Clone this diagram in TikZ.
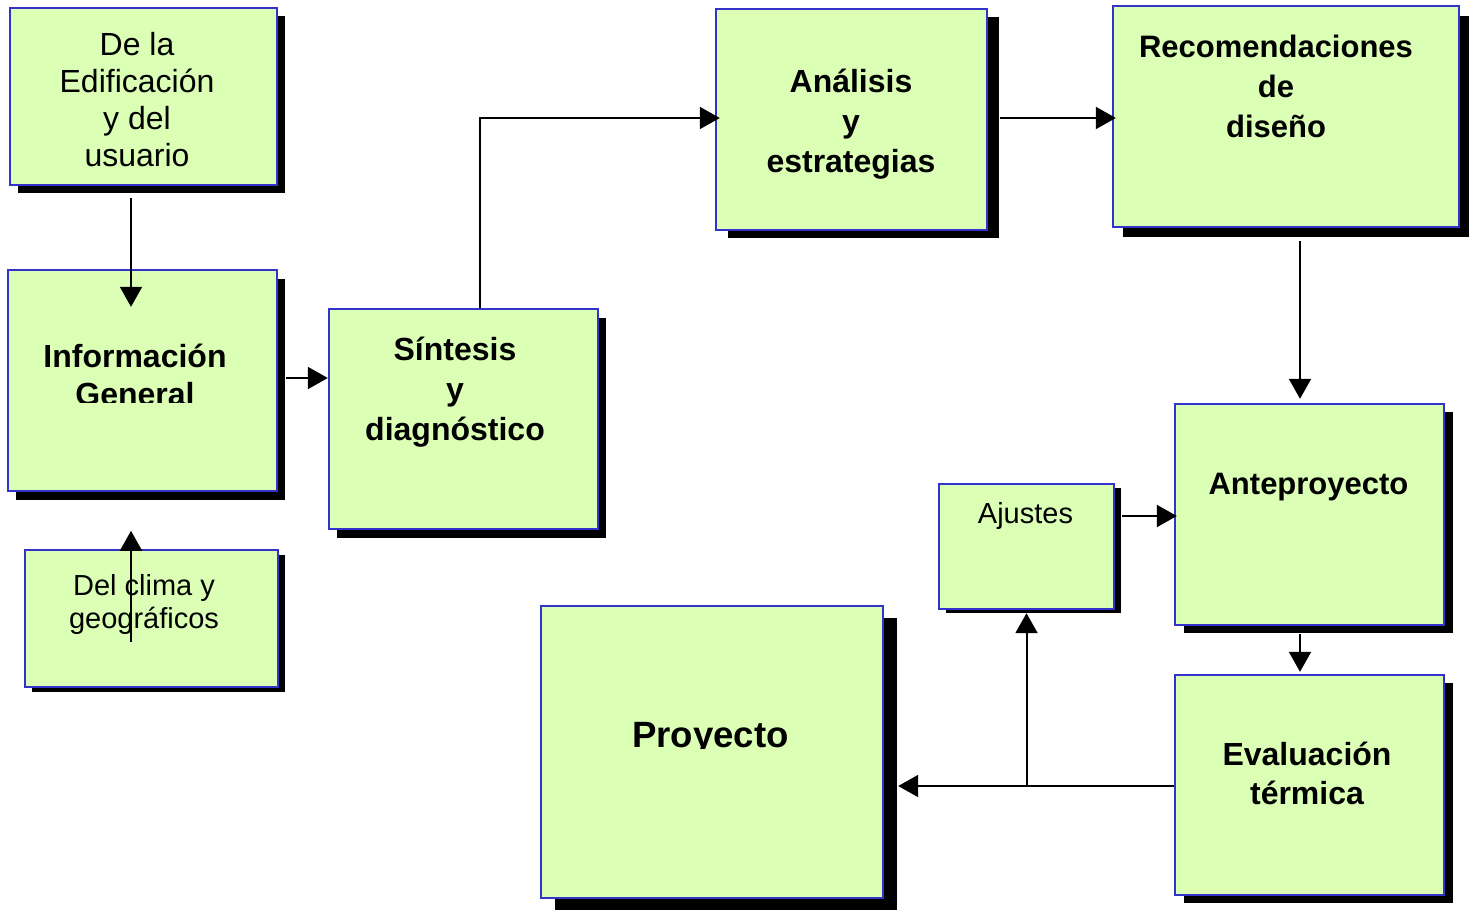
\documentclass[tikz,border=0pt]{standalone}
\usepackage{fontspec}
\setmainfont{Liberation Sans}
\usetikzlibrary{arrows.meta,calc,shadows}
\definecolor{bblue}{RGB}{51,51,204}
\definecolor{bgreen}{RGB}{220,255,182}
\newcommand\lns[1]{\begin{tabular}[t]{@{}c@{}}#1\end{tabular}}
\begin{document}
\begin{tikzpicture}[x=0.5pt,y=-0.5pt,
  box/.style={rectangle, draw=bblue, fill=bgreen, line width=1.2pt, inner sep=0pt},
  shd/.style 2 args={general shadow={fill=black, shadow xshift=#1, shadow yshift=-#2}},
  txt/.style 2 args={anchor=base, inner sep=0pt, font=\fontsize{#1}{#2}\selectfont},
  arr/.style={line width=1pt, -{Triangle[length=10pt,width=11pt]}}]
\useasboundingbox (0,0) rectangle (1477,911);
% boxes
\node[box, shd={4pt}{4pt}, minimum width=133.5pt, minimum height=88.5pt] (b1) at (143.5,96.5) {};
\node[box, shd={4pt}{4.5pt}, minimum width=134.5pt, minimum height=110.5pt] (b2) at (142.5,380.5) {};
\node[box, shd={3.5pt}{2.5pt}, minimum width=126.5pt, minimum height=68.5pt] (b3) at (151.5,618.5) {};
\node[box, shd={4pt}{4.5pt}, minimum width=134.5pt, minimum height=110pt] (b4) at (463.5,419) {};
\node[box, shd={6pt}{4pt}, minimum width=135.5pt, minimum height=110.5pt] (b5) at (851.5,119.5) {};
\node[box, shd={5pt}{5pt}, minimum width=173pt, minimum height=110.5pt] (b6) at (1286,116.5) {};
\node[box, shd={4.5pt}{4pt}, minimum width=134.5pt, minimum height=110.5pt] (b7) at (1309.5,514.5) {};
\node[box, shd={3.5pt}{2pt}, minimum width=87.5pt, minimum height=62.5pt] (b8) at (1026.5,546.5) {};
\node[box, shd={4.5pt}{4pt}, minimum width=134.5pt, minimum height=110pt] (b9) at (1309.5,785) {};
\node[box, shd={7pt}{6pt}, minimum width=171pt, minimum height=146pt] (b10) at (712,752) {};
% texts
\node[txt={16}{18.5}] (t1) at (137,55) {\lns{De la\\Edificación\\y del\\usuario}};
\begin{scope}
\clip (0,0) rectangle (1477,402);
\node[txt={16}{19}] (t2) at (135,367) {\lns{\bfseries Información\\\bfseries General}};
\end{scope}
\node[txt={14.5}{16.75}] (t3) at (144,595) {\lns{Del clima y\\geográficos}};
\node[txt={16}{20}] (t4) at (455,360) {\lns{\bfseries Síntesis\\\bfseries y\\\bfseries diagnóstico}};
\node[txt={16}{20}] (t5) at (851,92) {\lns{\bfseries Análisis\\\bfseries y\\\bfseries estrategias}};
\node[txt={15.5}{20}] (t6) at (1276,57) {\lns{\bfseries Recomendaciones\\\bfseries de\\\bfseries diseño}};
\node[txt={15.5}{19}] (t7) at (1308.5,494) {\bfseries Anteproyecto};
\node[txt={14.5}{17}] (t8) at (1025.5,523) {Ajustes};
\node[txt={16}{19.5}] (t9) at (1307,765) {\lns{\bfseries Evaluación\\\bfseries térmica}};
\begin{scope}
\clip (0,0) rectangle (1477,748.5);
\node[txt={18.3}{22}] (t10) at (710.5,747) {\bfseries Proyecto};
\end{scope}
% connectors
\draw[arr] ($(b1.south)+(-12.5,12)$) -- ($(b2.north)+(-11.5,38)$);
\draw[arr] ($(b3.north)+(-20.5,93)$) -- ($(b3.north)+(-20.5,-18)$);
\draw[arr] ($(b2.east)+(8,-2.5)$) coordinate (p1) -- (p1 -| b4.west);
\draw[arr] ($(b4.north)+(16.5,0)$) |- ($(b5.west)+(5,-1.5)$);
\draw[arr] ($(b5.east)+(12,-1.5)$) coordinate (p2) -- ($(p2 -| b6.west)+(4,0)$);
\draw[arr] ($(b6.south)+(14,13)$) -- ($(b7.north)+(-9.5,-4)$);
\draw[arr] ($(b8.east |- b7.west)+(7,1.5)$) -- ($(b7.west)+(3,1.5)$);
\draw[arr] ($(b7.south)+(-9.5,8)$) -- ($(b9.north)+(-9.5,-2)$);
\draw[arr] ($(b9.west)+(0,1)$) coordinate (p3) -- ($(p3 -| b10.east)+(14,0)$);
\draw[arr] ($(b8.south |- p3)$) -- ($(b8.south)+(0,3)$);
\end{tikzpicture}
\end{document}
